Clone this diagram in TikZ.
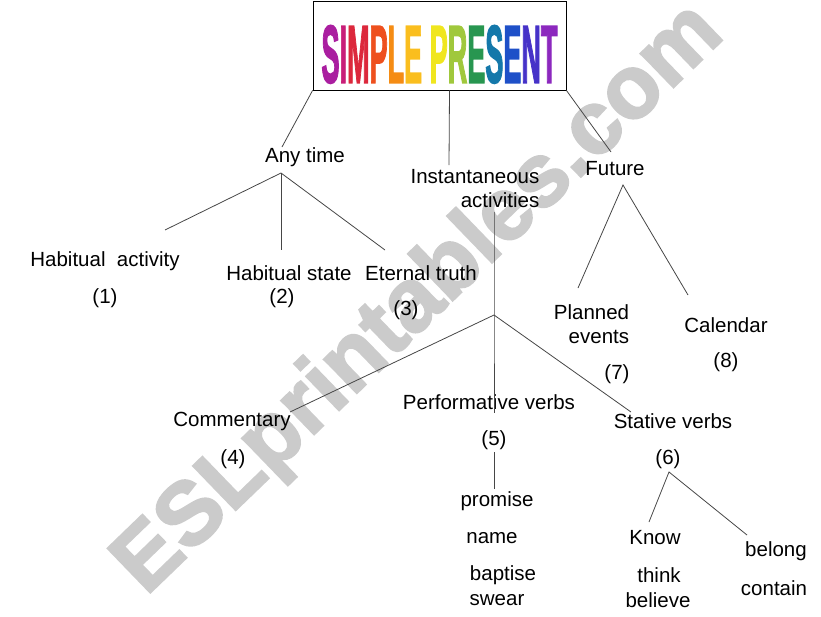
\documentclass[tikz,border=0pt]{standalone}
\usepackage{fontspec}
\setmainfont{Liberation Sans}
\newfontfamily\heavyfont{Liberation Sans}[BoldFeatures={FakeBold=2.5}]
\usepackage{xcolor}
\usetikzlibrary{positioning}
\definecolor{lnk}{RGB}{70,70,70}
\definecolor{wmark}{RGB}{203,203,203}
\definecolor{cS}{RGB}{170,30,160}
\definecolor{cI}{RGB}{200,30,120}
\definecolor{cM}{RGB}{220,40,60}
\definecolor{cP}{RGB}{238,80,30}
\definecolor{cL}{RGB}{245,140,20}
\definecolor{cE}{RGB}{250,190,30}
\definecolor{cPP}{RGB}{240,230,30}
\definecolor{cR}{RGB}{160,200,60}
\definecolor{cEE}{RGB}{40,150,80}
\definecolor{cSS}{RGB}{20,120,170}
\definecolor{cEEE}{RGB}{30,80,200}
\definecolor{cN}{RGB}{70,50,200}
\definecolor{cT}{RGB}{140,40,190}

\begin{document}
\begin{tikzpicture}[x=1pt, y=-1pt,
  lbl/.style={inner sep=0pt, font=\fontsize{20.5}{24}\selectfont},
  brnch/.style={draw=lnk, line width=0.8pt}]
\useasboundingbox (0,0) rectangle (821,616);
\node[rotate=44, text=wmark, inner sep=0pt, font=\fontsize{89}{89}\selectfont\heavyfont\bfseries] (wm) at (420,300) {ESLprintables.com};

\node[draw, line width=0.8pt, minimum width=253pt, minimum height=89pt, inner sep=0pt] (title) at (439.5,45.5)
  {\raisebox{-8pt}[58pt][0pt]{\resizebox{236pt}{57pt}{\heavyfont\bfseries
  \textcolor{cS}{S}\textcolor{cI}{I}\textcolor{cM}{M}\textcolor{cP}{P}\textcolor{cL}{L}\textcolor{cE}{E}
  \textcolor{cPP}{P}\textcolor{cR}{R}\textcolor{cEE}{E}\textcolor{cSS}{S}\textcolor{cEEE}{E}\textcolor{cN}{N}\textcolor{cT}{T}}}};

\node[lbl] (anytime) at (305,157) {Any time};
\node[lbl, align=right] (instant) at (475,189) {Instantaneous\\activities};
\node[lbl] (future) at (615,169) {Future};

\node[lbl] (habact) at (105,261) {Habitual~ activity};
\node[lbl] (num1) at (105,298) {(1)};
\node[lbl] (habstate) at (289,273) {Habitual state};
\node[lbl] (num2) at (282,298) {(2)};
\node[lbl] (eternal) at (421,273) {Eternal truth};
\node[lbl] (num3) at (406,310) {(3)};

\node[lbl, align=right] (planned) at (591.5,324) {Planned\\events};
\node[lbl] (num7) at (617,374) {(7)};
\node[lbl] (calendar) at (726,325) {Calendar};
\node[lbl] (num8) at (726,362) {(8)};

\node[lbl] (comment) at (232,421) {Commentary};
\node[lbl] (num4) at (233,459) {(4)};
\node[lbl] (perf) at (489,402) {Performative verbs};
\node[lbl] (num5) at (494,440) {(5)};
\node[lbl] (stative) at (673,421) {Stative verbs};
\node[lbl] (num6) at (668,459) {(6)};

\node[lbl] (promise) at (497,501) {promise};
\node[lbl] (name) at (492,538) {name};
\node[lbl] (baptise) at (503,575) {baptise};
\node[lbl] (swear) at (497,600) {swear};

\node[lbl] (know) at (655,538) {Know};
\node[lbl] (think) at (659,575) {think};
\node[lbl] (believe) at (658,600) {believe};
\node[lbl] (belong) at (776,551) {belong};
\node[lbl] (contain) at (774,588) {contain};

\coordinate (atfork) at (281,173);
\coordinate (insfork) at (494,315);
\coordinate (futfork) at (623,185);
\coordinate (stfork) at (669,472);

\draw[brnch] (title.south west) -- ([shift={(-23,-10)}]anytime.center);
\draw[brnch] ([shift={(10,0)}]title.south) -- ([shift={(-26,-24)}]instant.center);
\draw[brnch] (title.south east) -- ([shift={(-4,-17)}]future.center);

\draw[brnch] ([shift={(60,-31)}]habact.center) -- (atfork) -- ([shift={(-36,-23)}]eternal.center);
\draw[brnch] (atfork) -- ([shift={(-8,-23)}]habstate.center);

\draw[brnch] ([shift={(19,23)}]instant.center) -- (insfork) -- ([shift={(5,11)}]perf.center);
\draw[brnch] ([shift={(58,-9)}]comment.center) -- (insfork) -- ([shift={(-42,-9)}]stative.center);

\draw[brnch] ([shift={(0,12)}]num5.center) -- ([shift={(-3,-12)}]promise.center);

\draw[brnch] ([shift={(-13.5,-36)}]planned.center) -- (futfork) -- ([shift={(-38,-30)}]calendar.center);

\draw[brnch] ([shift={(-6,-16)}]know.center) -- (stfork) -- ([shift={(-29,-16)}]belong.center);
\end{tikzpicture}
\end{document}
